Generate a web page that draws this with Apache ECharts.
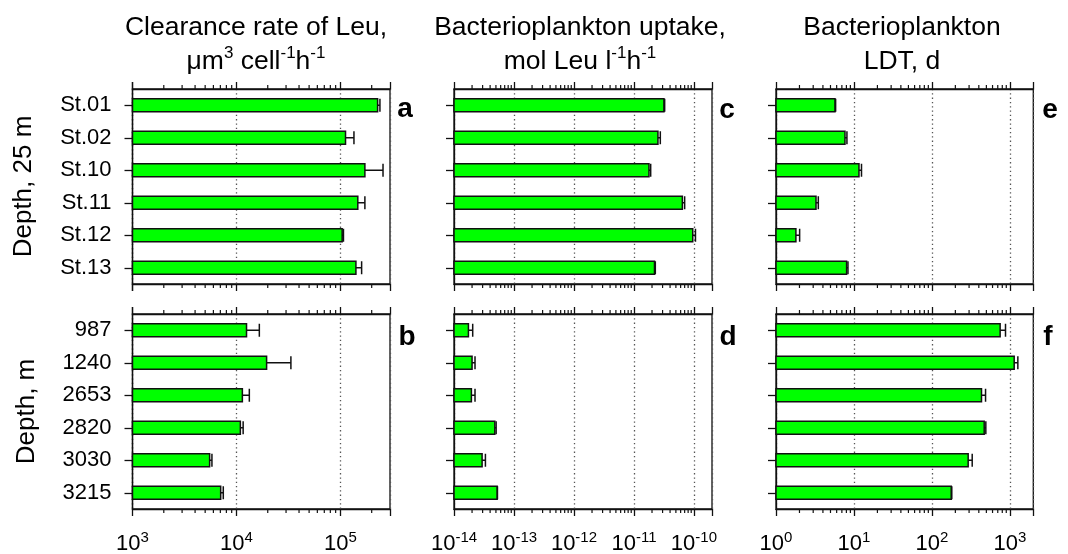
<!DOCTYPE html>
<html>
<head>
<meta charset="utf-8">
<script src="https://cdn.jsdelivr.net/npm/echarts@6.0.0/dist/echarts.min.js"></script>
<style>
html,body{margin:0;padding:0;background:#fff;}
#chart{width:1068px;height:554px;}
</style>
</head>
<body>
<div id="chart"></div>
<script>
var myChart = echarts.init(document.getElementById("chart"));

// categories
var stations = ['St.01', 'St.02', 'St.10', 'St.11', 'St.12', 'St.13'];
var depths = ['987', '1240', '2653', '2820', '3030', '3215'];

// clearance rate of Leu, um3 cell-1 h-1 (mean, mean + error)
var clearSt = [2.28e5, 1.12e5, 1.72e5, 1.47e5, 1.04e5, 1.41e5];
var clearStErr = [2.40e5, 1.35e5, 2.57e5, 1.72e5, 1.07e5, 1.60e5];
var clearDeep = [1.25e4, 1.95e4, 1.14e4, 1.09e4, 5.52e3, 7.05e3];
var clearDeepErr = [1.66e4, 3.34e4, 1.33e4, 1.16e4, 5.81e3, 7.47e3];

// bacterioplankton uptake, mol Leu l-1 h-1
var uptakeSt = [3.16e-11, 2.51e-11, 1.78e-11, 6.41e-11, 9.55e-11, 2.20e-11];
var uptakeStErr = [3.25e-11, 2.75e-11, 1.90e-11, 7.00e-11, 1.06e-10, 2.27e-11];
var uptakeDeep = [1.74e-14, 2.00e-14, 1.95e-14, 4.79e-14, 2.94e-14, 5.24e-14];
var uptakeDeepErr = [2.05e-14, 2.24e-14, 2.24e-14, 5.04e-14, 3.34e-14, 5.30e-14];

// bacterioplankton LDT, d
var ldtSt = [5.71, 7.67, 11.6, 3.26, 1.80, 8.05];
var ldtStErr = [5.82, 8.13, 12.5, 3.49, 2.01, 8.38];
var ldtDeep = [751, 1137, 433, 469, 292, 177];
var ldtDeepErr = [880, 1267, 488, 492, 329, 180];

// x axis ranges per column
var xRanges = [[1e3, 3e5], [1e-14, 2e-10], [1, 2e3]];

var FONT = "'Liberation Sans', Arial, sans-serif";

// layout
var colLeft = [132.5, 454, 776];
var colWidth = [257.5, 258, 257.3];
var rowTop = [89, 314];
var rowHeight = 195;

var panels = [
    {col: 0, row: 0, cats: stations, val: clearSt, err: clearStErr, letter: 'a', name: 'Depth, 25 m'},
    {col: 0, row: 1, cats: depths, val: clearDeep, err: clearDeepErr, letter: 'b', name: 'Depth, m'},
    {col: 1, row: 0, cats: stations, val: uptakeSt, err: uptakeStErr, letter: 'c'},
    {col: 1, row: 1, cats: depths, val: uptakeDeep, err: uptakeDeepErr, letter: 'd'},
    {col: 2, row: 0, cats: stations, val: ldtSt, err: ldtStErr, letter: 'e'},
    {col: 2, row: 1, cats: depths, val: ldtDeep, err: ldtDeepErr, letter: 'f'}
];
var letterPos = [[405, 109], [407, 337], [727, 110], [728, 337], [1050, 110], [1048, 337]];

var titles = [
    {x: 256, text: '{n|Clearance rate of Leu,}\n{n|\u03bcm}{s|3}{n| cell}{s|-1}{n|h}{s|-1}'},
    {x: 580, text: '{n|Bacterioplankton uptake,}\n{n|mol Leu l}{s|-1}{n|h}{s|-1}'},
    {x: 902, text: '{n|Bacterioplankton}\n{n|LDT, d}'}
];

function powLabel(v) {
    var e = Math.log10(v), r = Math.round(e);
    if (Math.abs(e - r) > 1e-6) return '';
    return '{b|10}{s|' + r + '}';
}

function minorTicks(range) {
    var out = [];
    var e0 = Math.round(Math.log10(range[0]));
    var e1 = Math.ceil(Math.log10(range[1]) - 1e-9);
    for (var e = e0; e < e1; e++) {
        for (var m = 2; m <= 9; m++) {
            var v = m * Math.pow(10, e);
            if (v < range[1] * 0.999) out.push([v, 0]);
        }
    }
    return out;
}

function renderBar(params, api) {
    var cs = params.coordSys;
    var p = api.coord([api.value(1), api.value(0)]);
    var pe = api.coord([api.value(2), api.value(0)]);
    var h = api.size([0, 1])[1] * 0.4;
    return {
        type: 'group',
        children: [
            {type: 'rect', shape: {x: cs.x, y: p[1] - h / 2, width: p[0] - cs.x, height: h},
                style: {fill: '#00ff00', stroke: '#111', lineWidth: 1.5}},
            {type: 'line', shape: {x1: p[0], y1: p[1], x2: pe[0], y2: pe[1]},
                style: {stroke: '#111', lineWidth: 1.5}},
            {type: 'line', shape: {x1: pe[0], y1: p[1] - h / 2, x2: pe[0], y2: p[1] + h / 2},
                style: {stroke: '#111', lineWidth: 1.5}}
        ]
    };
}

function renderMinor(params, api) {
    var cs = params.coordSys;
    var x = api.coord([api.value(0), 0])[0];
    var yb = cs.y + cs.height;
    return {
        type: 'group',
        children: [
            {type: 'line', shape: {x1: x, y1: cs.y, x2: x, y2: cs.y - 4}, style: {stroke: '#111', lineWidth: 1.2}},
            {type: 'line', shape: {x1: x, y1: yb, x2: x, y2: yb + 4}, style: {stroke: '#111', lineWidth: 1.2}}
        ]
    };
}

var grid = [], xAxis = [], yAxis = [], series = [], graphic = [], title = [];

panels.forEach(function (pn, i) {
    var range = xRanges[pn.col];
    grid.push({
        left: colLeft[pn.col], top: rowTop[pn.row], width: colWidth[pn.col], height: rowHeight,
        show: true, borderColor: '#111', borderWidth: 1.3, backgroundColor: 'transparent',
        containLabel: false, outerBoundsMode: 'none'
    });
    // bottom axis
    xAxis.push({
        type: 'log', logBase: 10, gridIndex: i, position: 'bottom',
        min: range[0], max: range[1],
        axisLine: {show: true, lineStyle: {color: '#111', width: 1.3}},
        axisTick: {show: true, length: 7, lineStyle: {color: '#111', width: 1.3}},
        minorTick: {show: false},
        splitLine: {show: true, lineStyle: {color: '#555', width: 1.3, type: [1.3, 3]}},
        axisLabel: {
            show: pn.row === 1, margin: 21, showMinLabel: true, showMaxLabel: true,
            formatter: powLabel, color: '#000',
            rich: {
                b: {fontSize: 22, lineHeight: 28, fontFamily: FONT, color: '#000'},
                s: {fontSize: 15, lineHeight: 15, verticalAlign: 'top', fontFamily: FONT, color: '#000'}
            }
        }
    });
    // top axis (ticks only)
    xAxis.push({
        type: 'log', logBase: 10, gridIndex: i, position: 'top',
        min: range[0], max: range[1],
        axisLine: {show: true, lineStyle: {color: '#111', width: 1.3}},
        axisTick: {show: true, length: 7, lineStyle: {color: '#111', width: 1.3}},
        splitLine: {show: false},
        axisLabel: {show: false}
    });
    yAxis.push({
        type: 'category', gridIndex: i, data: pn.cats, inverse: true,
        name: pn.name || '', nameLocation: 'middle', nameRotate: 90,
        nameGap: pn.row === 0 ? 96 : 93,
        nameTextStyle: {fontSize: 26, fontFamily: FONT, color: '#000'},
        axisLine: {show: true, lineStyle: {color: '#111', width: 1.3}},
        axisTick: {show: true, alignWithLabel: true, length: 8, lineStyle: {color: '#111', width: 1.3}},
        splitLine: {show: false},
        axisLabel: {show: pn.col === 0, fontSize: 22, fontFamily: FONT, color: '#000', margin: 21}
    });
    series.push({
        type: 'custom', name: pn.letter, xAxisIndex: 2 * i, yAxisIndex: i,
        renderItem: renderBar, encode: {x: [1, 2], y: 0}, silent: true,
        data: pn.val.map(function (v, k) { return [k, v, pn.err[k]]; })
    });
    series.push({
        type: 'custom', xAxisIndex: 2 * i, yAxisIndex: i,
        renderItem: renderMinor, encode: {x: 0, y: 1}, silent: true, clip: false,
        data: minorTicks(range)
    });
    graphic.push({
        type: 'text', x: letterPos[i][0], y: letterPos[i][1],
        style: {text: pn.letter, fontSize: 28, fontWeight: 'bold', fontFamily: FONT, fill: '#000',
            align: 'center', verticalAlign: 'middle'}
    });
});

titles.forEach(function (t) {
    title.push({
        text: t.text, left: t.x, top: 11, textAlign: 'center', padding: 0,
        textStyle: {
            fontSize: 26.5, fontWeight: 'normal', fontFamily: FONT, color: '#000', lineHeight: 34,
            rich: {
                n: {fontSize: 26.5, lineHeight: 34, fontFamily: FONT, color: '#000'},
                s: {fontSize: 17, lineHeight: 17, verticalAlign: 'top', fontFamily: FONT, color: '#000'}
            }
        }
    });
});

myChart.setOption({
    animation: false,
    backgroundColor: '#fff',
    title: title,
    grid: grid,
    xAxis: xAxis,
    yAxis: yAxis,
    series: series,
    graphic: graphic
});
</script>
</body>
</html>
